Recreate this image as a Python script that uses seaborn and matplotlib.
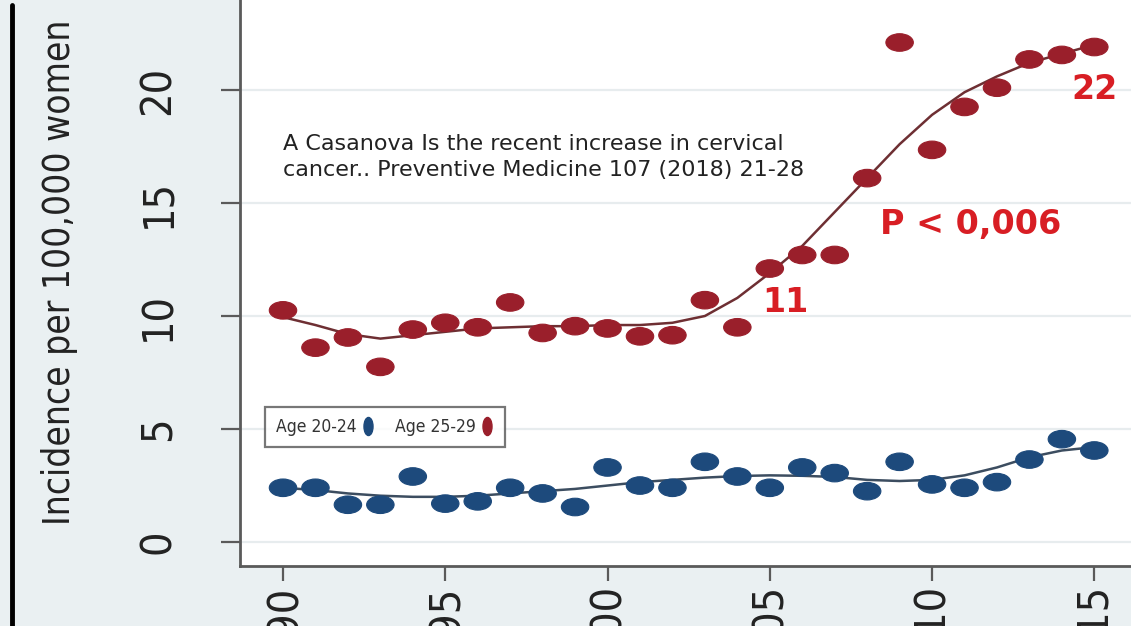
import numpy as np
import pandas as pd
import matplotlib
matplotlib.use("Agg")
import matplotlib.pyplot as plt
import matplotlib.font_manager as fm
from matplotlib.path import Path
from matplotlib.transforms import Affine2D
from matplotlib.lines import Line2D
import seaborn as sns

# ---- data -------------------------------------------------------------
years = list(range(1990, 2016))

age_20_24 = [2.4, 2.4, 1.65, 1.65, 2.9, 1.7, 1.8, 2.4, 2.15, 1.55,
             3.3, 2.5, 2.4, 3.55, 2.9, 2.4, 3.3, 3.05, 2.25, 3.55,
             2.55, 2.4, 2.65, 3.65, 4.55, 4.05]
age_25_29 = [10.25, 8.6, 9.05, 7.75, 9.4, 9.7, 9.5, 10.6, 9.25, 9.55,
             9.45, 9.1, 9.15, 10.7, 9.5, 12.1, 12.7, 12.7, 16.1, 22.1,
             17.35, 19.25, 20.1, 21.35, 21.55, 21.9]

# smoothed trend lines
fit_20_24 = [2.4, 2.3, 2.15, 2.05, 2.0, 2.0, 2.05, 2.15, 2.25, 2.35,
             2.5, 2.65, 2.75, 2.85, 2.92, 2.95, 2.93, 2.88, 2.75, 2.7,
             2.75, 2.95, 3.3, 3.75, 4.05, 4.2]
fit_25_29 = [9.95, 9.6, 9.2, 9.0, 9.15, 9.3, 9.45, 9.5, 9.55, 9.55,
             9.6, 9.6, 9.7, 10.0, 10.8, 11.9, 13.1, 14.6, 16.1, 17.6,
             18.9, 19.9, 20.6, 21.2, 21.6, 22.0]

groups = ["Age 20-24", "Age 25-29"]
x_ticks = [1990, 1995, 2000, 2005, 2010, 2015]
y_ticks = [0, 5, 10, 15, 20]

citation = ("A Casanova Is the recent increase in cervical\n"
            "cancer.. Preventive Medicine 107 (2018) 21-28")
p_label = "P < 0,006"
value_labels = [(2005.47, 10.58, "11"), (2015.02, 20.04, "22")]

# ---- styling ----------------------------------------------------------
sns.set_theme(style="white")
names = {f.name for f in fm.fontManager.ttflist}
if "Liberation Sans Narrow" in names:
    narrow = dict(family="Liberation Sans Narrow")
else:
    narrow = dict(family="DejaVu Sans", stretch="condensed")
plt.rcParams["font.family"] = ["DejaVu Sans"]

palette = {"Age 20-24": "#1d4a7c", "Age 25-29": "#9a1f2b"}
line_colors = {"Age 20-24": "#3c4d60", "Age 25-29": "#6e2f33"}
spine_col = "#5a5a5a"
bg = "#eaf0f2"

pts = pd.DataFrame({
    "year": years * 2,
    "incidence": age_20_24 + age_25_29,
    "group": [groups[0]] * len(years) + [groups[1]] * len(years),
})
fits = pd.DataFrame({
    "year": years * 2,
    "incidence": fit_20_24 + fit_25_29,
    "group": [groups[0]] * len(years) + [groups[1]] * len(years),
})

W, H = 1131, 626
fig = plt.figure(figsize=(W / 100, H / 100), dpi=100)
fig.patch.set_facecolor(bg)

# plot region: left spine at x=240 px, bottom spine at y=566 px (from top)
ax = fig.add_axes([240 / W, 60 / H, (W - 240) / W, 566 / H])
ax.set_facecolor("white")

# wide ellipse marker for the points
ell = Path.unit_circle().transformed(Affine2D().scale(1.0, 0.64))

for y in y_ticks:
    ax.axhline(y, color="#e7ecee", lw=1.6, zorder=0)

sns.lineplot(data=fits, x="year", y="incidence", hue="group",
             palette=line_colors, lw=1.8, legend=False, ax=ax, zorder=2)
sns.scatterplot(data=pts, x="year", y="incidence", hue="group",
                palette=palette, marker=ell, s=390, linewidth=0.8,
                edgecolor="face", legend=False, ax=ax, zorder=3)

ax.set_xlim(1988.675, 2016.13)
ax.set_ylim(-1.06, 23.98)
ax.set_xticks(x_ticks)
ax.set_xticklabels([str(v) for v in x_ticks], rotation=90,
                   fontsize=31, color="#222222", **narrow)
ax.set_yticks(y_ticks)
ax.set_yticklabels([str(v) for v in y_ticks], rotation=90, va="center",
                   fontsize=31, color="#222222", **narrow)
ax.tick_params(axis="x", length=11, width=1.6, color=spine_col, pad=2,
               bottom=True)
ax.tick_params(axis="y", length=14, width=1.6, color=spine_col, pad=30,
               left=True)
ax.set_xlabel("")
ax.set_ylabel("")
for side in ("top", "right"):
    ax.spines[side].set_visible(False)
for side in ("left", "bottom"):
    ax.spines[side].set_color(spine_col)
    ax.spines[side].set_linewidth(2)

ylab = fig.text(60 / W, 1 - 272 / H, "Incidence per 100,000 women",
                rotation=90, ha="center", va="center", fontsize=32,
                color="#222222", **narrow)
# size the axis title so it spans about 505 px of height
renderer = fig.canvas.get_renderer()
h = ylab.get_window_extent(renderer).height
ylab.set_fontsize(32 * 505 / h)

# annotations
ax.text(1990.0, 17.04, citation, ha="left", va="center", fontsize=16,
        color="#222222", linespacing=1.33, zorder=4)
ax.text(2011.2, 14.07, p_label, ha="center", va="center", fontsize=24,
        fontweight="bold", color="#d81e24", zorder=4)
for xv, yv, s in value_labels:
    ax.text(xv, yv, s, ha="center", va="center", fontsize=24,
            fontweight="bold", color="#d81e24", zorder=4)

# legend with the symbol after each label
tall = Path.unit_circle().transformed(Affine2D().scale(0.5, 1.0))
handles = [Line2D([], [], ls="none", marker=tall, markersize=13,
                  color=palette[g]) for g in groups]
leg = ax.legend(handles, groups, loc="lower left",
                bbox_to_anchor=(0.028, 0.21), borderaxespad=0,
                ncol=2, markerfirst=False, handlelength=0.7,
                handletextpad=0.3, columnspacing=1.2, frameon=True,
                fancybox=False, prop=dict(size=12.5, **narrow),
                borderpad=0.65)
leg.get_frame().set_edgecolor("#555555")
leg.get_frame().set_linewidth(1.6)
for t in leg.get_texts():
    t.set_color("#333333")

# dark rule along the left edge of the panel
fig.add_artist(Line2D([12 / W, 12 / W], [0, 1 - 5 / H], color="black",
                      lw=3.5, transform=fig.transFigure))

fig.savefig("out.png", dpi=100, facecolor=fig.get_facecolor())
